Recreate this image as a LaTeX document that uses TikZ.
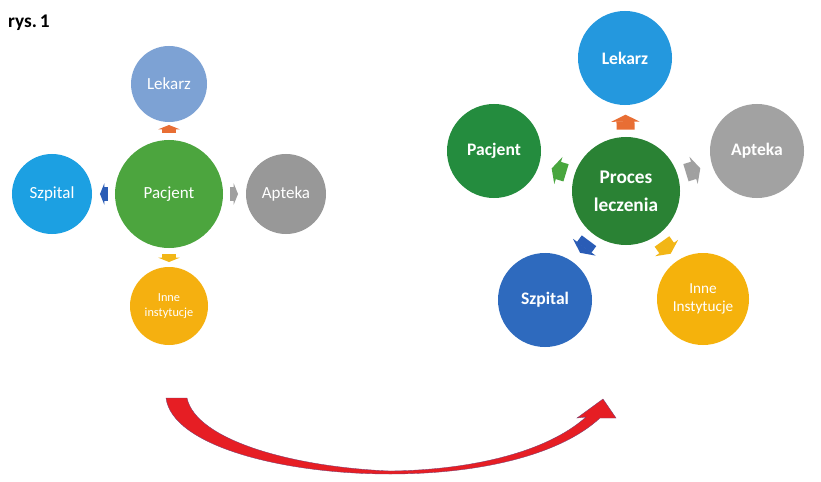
\documentclass[tikz,border=0pt]{standalone}
\usepackage{fontspec}
\setmainfont{Carlito}
\usetikzlibrary{calc,arrows.meta}

\definecolor{lLek}{RGB}{125,162,212}
\definecolor{lPac}{RGB}{76,165,62}
\definecolor{lSzp}{RGB}{28,160,226}
\definecolor{lApt}{RGB}{152,152,152}
\definecolor{lInne}{RGB}{245,176,16}
\definecolor{rLek}{RGB}{36,152,222}
\definecolor{rPac}{RGB}{36,140,62}
\definecolor{rProc}{RGB}{42,130,52}
\definecolor{rApt}{RGB}{162,162,162}
\definecolor{rSzp}{RGB}{46,106,190}
\definecolor{rInne}{RGB}{245,178,12}
\definecolor{aOr}{RGB}{232,110,52}
\definecolor{aBlue}{RGB}{42,92,182}
\definecolor{aGray}{RGB}{160,160,160}
\definecolor{aYel}{RGB}{242,182,22}
\definecolor{aGreen}{RGB}{72,166,62}
\definecolor{bigred}{RGB}{230,30,36}
\definecolor{bigedge}{RGB}{120,62,112}

\begin{document}
\begin{tikzpicture}[x=0.03cm,y=-0.03cm,
  bubble/.style={circle,inner sep=0pt,text=white,align=center},
  smalllabel/.style={font=\fontsize{14.5}{16}\selectfont},
  boldlabel/.style={font=\bfseries\fontsize{15}{18}\selectfont},
  connsmall/.style={line width=0.42cm,-{Triangle[width=0.64cm,length=0.13cm]}},
  connbig/.style={line width=0.54cm,-{Triangle[width=0.84cm,length=0.21cm]}}]
\useasboundingbox[fill=white] (0,0) rectangle (821,482);

% caption
\node[font=\bfseries\fontsize{16.5}{18}\selectfont,anchor=base west,inner sep=0pt] (title) at (8,28) {rys.\hspace{0.15em}1};

% ---- first scheme: patient in the centre ----
\node[bubble,fill=lPac,minimum size=3.24cm,smalllabel] (pacL) at (169,194) {Pacjent};
\node[bubble,fill=lLek,minimum size=2.28cm,smalllabel] (lekL) at (169,84) {Lekarz};
\node[bubble,fill=lSzp,minimum size=2.4cm,smalllabel] (szpL) at (52,194) {Szpital};
\node[bubble,fill=lApt,minimum size=2.4cm,smalllabel] (aptL) at (286,194) {Apteka};
\node[bubble,fill=lInne,minimum size=2.34cm,font=\fontsize{10.5}{13}\selectfont] (inneL) at (169,306) {Inne\\instytucje};

\draw[connsmall,draw=aOr]   ($(pacL)!1.83cm!(lekL)$)  -- ($(pacL)!2.07cm!(lekL)$);
\draw[connsmall,draw=aBlue] ($(pacL)!1.83cm!(szpL)$)  -- ($(pacL)!2.07cm!(szpL)$);
\draw[connsmall,draw=aGray] ($(pacL)!1.83cm!(aptL)$)  -- ($(pacL)!2.07cm!(aptL)$);
\draw[connsmall,draw=aYel]  ($(pacL)!1.80cm!(inneL)$) -- ($(pacL)!2.04cm!(inneL)$);

% ---- second scheme: treatment process in the centre ----
\node[bubble,fill=rProc,minimum size=3.24cm,font=\bfseries\fontsize{16.5}{24}\selectfont] (proc) at (626,191) {Proces\\leczenia};
\node[bubble,fill=rLek,minimum size=2.82cm,boldlabel] (lekR) at (625,58) {Lekarz};
\node[bubble,fill=rPac,minimum size=2.82cm,boldlabel] (pacR) at (494,151) {Pacjent};
\node[bubble,fill=rApt,minimum size=2.82cm,boldlabel] (aptR) at (757,151) {Apteka};
\node[bubble,fill=rSzp,minimum size=2.82cm,boldlabel] (szpR) at (545,300) {Szpital};
\node[bubble,fill=rInne,minimum size=2.76cm,font=\fontsize{13}{15}\selectfont] (inneR) at (703,299) {Inne\\Instytucje};

\draw[connbig,draw=aOr]    ($(proc)!1.84cm!(lekR)$)  -- ($(proc)!2.29cm!(lekR)$);
\draw[connbig,draw=aGreen] ($(proc)!1.88cm!(pacR)$)  -- ($(proc)!2.33cm!(pacR)$);
\draw[connbig,draw=aGray]  ($(proc)!1.88cm!(aptR)$)  -- ($(proc)!2.33cm!(aptR)$);
\draw[connbig,draw=aBlue]  ($(proc)!1.86cm!(szpR)$)  -- ($(proc)!2.31cm!(szpR)$);
\draw[connbig,draw=aYel]   ($(proc)!1.86cm!(inneR)$) -- ($(proc)!2.31cm!(inneR)$);

% ---- curved transition arrow ----
\filldraw[fill=bigred,draw=bigedge,line width=0.3pt]
  (166,398) -- (187,398)
  .. controls (196,440) and (292,467) .. (390,471)
  .. controls (472,470) and (547,452) .. (586,417)
  -- (577,418) -- (603,399) -- (616,418) -- (600,418)
  .. controls (560,455) and (480,474) .. (390,474)
  .. controls (280,474) and (172,445) .. (166,398) -- cycle;
\end{tikzpicture}
\end{document}
